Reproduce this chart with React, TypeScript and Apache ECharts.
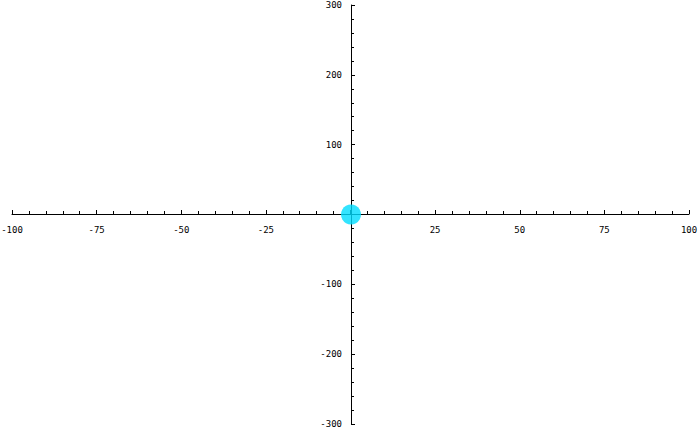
import { useEffect, useRef } from "react";
import * as echarts from "echarts";

// axis ranges and tick steps
const xRange = [-100, 100];
const xStep = 25;
const yRange = [-300, 300];
const yStep = 100;

// the single point drawn on the plane
const points: [number, number][] = [[0, 0]];

const labelFont = {
  color: "#000",
  fontFamily: "DejaVu Sans Mono",
  fontSize: 9,
};

const axisLine = { lineStyle: { color: "#000", width: 1 } };
const tick = { inside: true, length: 4, lineStyle: { color: "#000" } };
const minor = { show: true, splitNumber: 5, length: 3, lineStyle: { color: "#000" } };

export default function App() {
  const chartRef = useRef<HTMLDivElement | null>(null);

  useEffect(() => {
    if (!chartRef.current) {
      return;
    }
    document.body.style.margin = "0";

    const chart = echarts.init(chartRef.current, undefined, { renderer: "svg" });

    // hide the "0" label where the axes cross
    const hideZero = (value: number) => (value === 0 ? "" : String(value));

    // grid 0 holds the horizontal axis (its bottom edge is the y = 0 line),
    // grid 1 holds the vertical axis (its left edge is the x = 0 line)
    chart.setOption({
      animation: false,
      backgroundColor: "#fff",
      grid: [
        { left: 12, right: 11, top: 5, bottom: 218, outerBoundsMode: "none" },
        { left: 351, right: 11, top: 5, bottom: 8, outerBoundsMode: "none" },
      ],
      xAxis: [
        {
          type: "value",
          gridIndex: 0,
          position: "bottom",
          min: xRange[0],
          max: xRange[1],
          interval: xStep,
          axisLine: { ...axisLine, onZero: false },
          axisTick: tick,
          minorTick: minor,
          splitLine: { show: false },
          axisLabel: { ...labelFont, margin: 11, formatter: hideZero },
        },
        {
          type: "value",
          gridIndex: 1,
          min: 0,
          max: xRange[1],
          show: false,
        },
      ],
      yAxis: [
        {
          type: "value",
          gridIndex: 0,
          min: 0,
          max: yRange[1],
          show: false,
        },
        {
          type: "value",
          gridIndex: 1,
          position: "left",
          min: yRange[0],
          max: yRange[1],
          interval: yStep,
          axisLine: { ...axisLine, onZero: false },
          axisTick: tick,
          minorTick: minor,
          splitLine: { show: false },
          axisLabel: { ...labelFont, margin: 9, formatter: hideZero },
        },
      ],
      series: [
        {
          type: "scatter",
          xAxisIndex: 1,
          yAxisIndex: 1,
          data: points,
          symbol: "circle",
          symbolSize: 20,
          itemStyle: { color: "#00DDFF" },
        },
      ],
    });

    return () => {
      chart.dispose();
    };
  }, []);

  return <div ref={chartRef} style={{ width: 700, height: 432 }} />;
}
